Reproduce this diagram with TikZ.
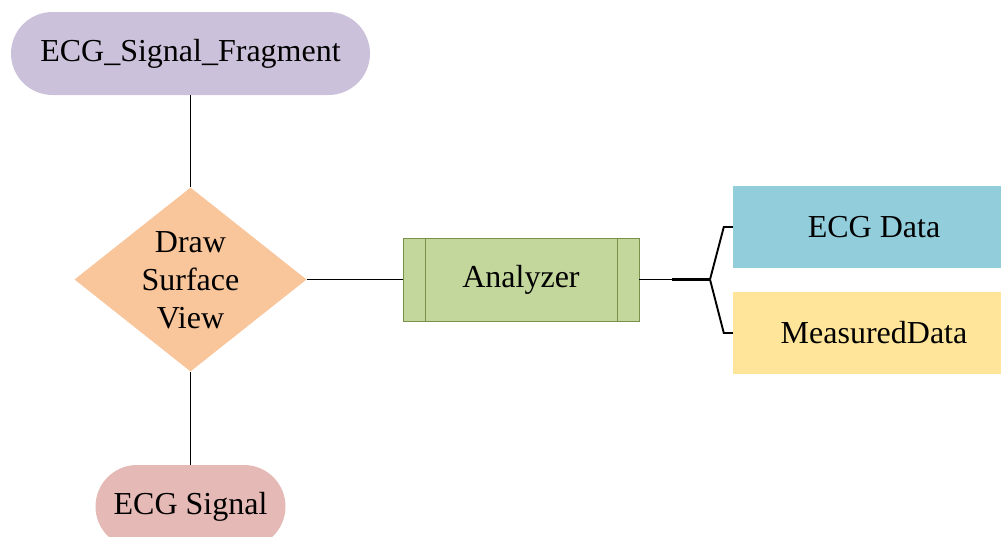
\documentclass[tikz,border=0pt]{standalone}
\usepackage{fontspec}
\setmainfont{Liberation Serif}
\usetikzlibrary{shapes.geometric}
\definecolor{lavfill}{HTML}{CCC1DA}
\definecolor{decfill}{HTML}{F9C59B}
\definecolor{sigfill}{HTML}{E5B9B5}
\definecolor{procfill}{HTML}{C3D69B}
\definecolor{procline}{HTML}{77904A}
\definecolor{datafill}{HTML}{92CDDC}
\definecolor{measfill}{HTML}{FFE599}
\begin{document}
\begin{tikzpicture}[x=1pt,y=-1pt,
  font=\fontsize{32}{38}\selectfont,
  term/.style={rectangle, rounded corners=41.5pt, minimum height=83pt, inner sep=0pt},
  decision/.style={diamond, fill=decfill, minimum width=232pt, minimum height=184pt, inner sep=0pt},
  procbox/.style={rectangle, fill=procfill, draw=procline, line width=0.9pt,
                  minimum width=236pt, minimum height=83pt, inner sep=0pt},
  outbox/.style={rectangle, minimum width=282pt, minimum height=82pt, inner sep=0pt},
  link/.style={line width=1.9pt, black},
  stemline/.style={line width=2.8pt, black}]
\useasboundingbox (0,0) rectangle (1001,536);

% nodes
\node[term, fill=lavfill, minimum width=359pt] (src) at (190.5,53.5) {ECG\_Signal\_Fragment};
\node[decision, label={[align=center, yshift=-1pt]center:Draw\\Surface\\View}] (drw) at (190.5,279.5) {};
\node[term, fill=sigfill, minimum width=190pt] (sig) at (190.5,506.5) {ECG Signal};
\node[procbox] (an) at (521,279.5) {Analyzer};
\draw[procline, line width=0.9pt] ([xshift=22.5pt]an.north west) -- ([xshift=22.5pt]an.south west);
\draw[procline, line width=0.9pt] ([xshift=-22.5pt]an.north east) -- ([xshift=-22.5pt]an.south east);
\node[outbox, fill=datafill] (ecg) at (874,227) {ECG Data};
\node[outbox, fill=measfill] (meas) at (874,333) {MeasuredData};

% fork points of the bracket
\coordinate (stem) at (672,279.5);
\coordinate (fork) at (710,279.5);

% connectors
\draw[link] (src.south) -- (drw.north);
\draw[link] (drw.south) -- (sig.north);
\draw[link] (drw.east) -- (an.west);
\draw[link] (an.east) -- (stem);
\draw[stemline] (stem) -- (fork);
\draw[link, line join=miter] (fork) -- ([xshift=-9pt]ecg.west) -- (ecg.west);
\draw[link, line join=miter] (fork) -- ([xshift=-9pt]meas.west) -- (meas.west);
\end{tikzpicture}
\end{document}
